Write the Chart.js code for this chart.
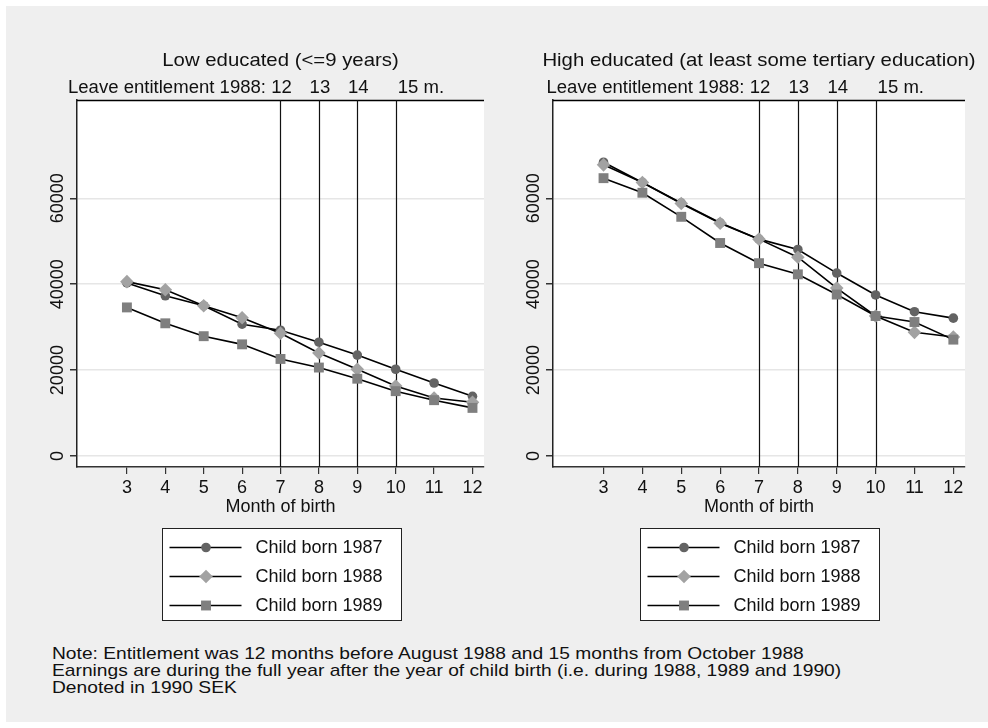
<!DOCTYPE html>
<html><head><meta charset="utf-8">
<script src="https://cdn.jsdelivr.net/npm/chart.js@4.4.1/dist/chart.umd.min.js"></script>
<style>
html,body{margin:0;padding:0;background:#fff;}
#wrap{position:absolute;left:0;top:0;width:988px;height:728px;background:#fff;overflow:hidden}
#bg{position:absolute;left:6px;top:6px;width:982px;height:716px;background:#efefef}
#c1{position:absolute;left:0;top:0}
#c2{position:absolute;left:494px;top:0}
#note{position:absolute;left:52px;top:646px;font-family:'Liberation Sans',Arial,sans-serif;font-size:17px;line-height:16.8px;color:#111;white-space:nowrap;transform:scaleX(1.13);transform-origin:0 0}
</style></head>
<body>
<div id="wrap">
<div id="bg"></div>
<canvas id="c1" width="494" height="640"></canvas>
<canvas id="c2" width="494" height="640"></canvas>
<div id="note">Note: Entitlement was 12 months before August 1988 and 15 months from October 1988<br>Earnings are during the full year after the year of child birth (i.e. during 1988, 1989 and 1990)<br>Denoted in 1990 SEK</div>
</div>
<script>
// ---- data ----
const months = [3, 4, 5, 6, 7, 8, 9, 10, 11, 12];
const entitlementMonths = [7, 8, 9, 10];
const entitlementLabels = ['12', '13', '14', '15 m.'];
const entitlementPrefix = 'Leave entitlement 1988:';
const yTicks = [0, 20000, 40000, 60000];
const seriesLabels = ['Child born 1987', 'Child born 1988', 'Child born 1989'];
const xTitle = 'Month of birth';
const titleLow = 'Low educated (<=9 years)';
const titleHigh = 'High educated (at least some tertiary education)';

const low1987 = [40300, 37300, 35000, 30700, 29300, 26500, 23500, 20200, 17000, 13900];
const low1988 = [40600, 38700, 35000, 32200, 28600, 24000, 20200, 16300, 13500, 12500];
const low1989 = [34600, 30900, 27900, 26000, 22600, 20600, 18000, 15100, 13000, 11200];

const high1987 = [68400, 63700, 58900, 54300, 50500, 48100, 42600, 37500, 33600, 32100];
const high1988 = [67800, 63700, 58800, 54200, 50500, 46300, 39100, 32600, 28800, 27700];
const high1989 = [64700, 61300, 55700, 49600, 44900, 42300, 37600, 32600, 31200, 27100];

// ---- styles ----
const FONT = "'Liberation Sans', Arial, sans-serif";
const pointStyles = ['circle', 'rectRot', 'rect'];
const pointRadii = [4.8, 6.8, 7];
const markerColors = ['#636363', '#a2a2a2', '#7f7f7f'];

Chart.defaults.font.family = FONT;
Chart.defaults.color = '#111';

function stretchText(ctx, text, x, y, align, sx) {
  ctx.save();
  ctx.translate(x, y);
  ctx.scale(sx, 1);
  ctx.textAlign = align;
  ctx.fillText(text, 0, 0);
  ctx.restore();
}

const deco = {
  id: 'deco',
  beforeDraw(chart) {
    const {ctx, chartArea: a} = chart;
    ctx.save();
    ctx.fillStyle = '#ffffff';
    ctx.fillRect(a.left, a.top, a.right - a.left, a.bottom - a.top);
    ctx.restore();
  },
  beforeDatasetsDraw(chart) {
    const {ctx, chartArea: a, scales: {x}} = chart;
    ctx.save();
    ctx.strokeStyle = '#000';
    ctx.lineWidth = 1.4;
    ctx.beginPath(); ctx.moveTo(a.left, a.top + 0.5); ctx.lineTo(a.right, a.top + 0.5); ctx.stroke();
    ctx.lineWidth = 1.2;
    ctx.strokeStyle = '#111';
    entitlementMonths.forEach(m => {
      const px = Math.round(x.getPixelForValue(m)) + 0.5;
      ctx.beginPath(); ctx.moveTo(px, a.top); ctx.lineTo(px, a.bottom); ctx.stroke();
    });
    ctx.restore();
  },
  afterDraw(chart, args, opts) {
    const {ctx, chartArea: a, scales: {x, y}} = chart;
    const cx = (a.left + a.right) / 2;
    ctx.save();
    ctx.fillStyle = '#111';
    ctx.textBaseline = 'alphabetic';
    // title
    ctx.font = '18.5px ' + FONT;
    stretchText(ctx, opts.title, cx, 66, 'center', 1.1);
    // subtitle
    ctx.font = '17.5px ' + FONT;
    const sx = 1.06;
    stretchText(ctx, entitlementPrefix, x.getPixelForValue(entitlementMonths[0]) - 14.5, 93, 'right', sx);
    entitlementMonths.forEach((m, i) => {
      const px = x.getPixelForValue(m);
      if (i < entitlementMonths.length - 1) {
        stretchText(ctx, entitlementLabels[i], px + 1, 93, 'center', sx);
      } else {
        stretchText(ctx, entitlementLabels[i], px + 2, 93, 'left', sx);
      }
    });
    // y tick labels (rotated)
    ctx.font = '18px ' + FONT;
    yTicks.forEach(v => {
      const py = y.getPixelForValue(v);
      ctx.save();
      ctx.translate(a.left - 14, py);
      ctx.rotate(-Math.PI / 2);
      ctx.textAlign = 'center';
      ctx.textBaseline = 'alphabetic';
      ctx.fillText(String(v), 0, 0);
      ctx.restore();
    });
    // legend
    const bw = 239, bh = 92, bx = Math.round(cx - 119) + 0.5, by = 528.5;
    ctx.fillStyle = '#fff';
    ctx.fillRect(bx, by, bw, bh);
    ctx.strokeStyle = '#222';
    ctx.lineWidth = 1;
    ctx.strokeRect(bx, by, bw, bh);
    chart.data.datasets.forEach((ds, i) => {
      const ly = by + 19 + i * 29;
      ctx.strokeStyle = '#000';
      ctx.lineWidth = 1.6;
      ctx.beginPath(); ctx.moveTo(bx + 7, ly); ctx.lineTo(bx + 79, ly); ctx.stroke();
      ctx.fillStyle = ds.pointBackgroundColor;
      Chart.helpers.drawPoint(ctx, {pointStyle: ds.pointStyle, radius: ds.pointRadius, borderWidth: 0, rotation: 0}, bx + 43.5, ly);
      ctx.fillStyle = '#111';
      ctx.font = '18px ' + FONT;
      ctx.textAlign = 'left';
      ctx.textBaseline = 'middle';
      ctx.fillText(ds.label, bx + 93, ly + 1);
    });
    ctx.restore();
  }
};

function makeChart(id, title, s87, s88, s89, yWidth, padRight) {
  const datasets = [s87, s88, s89].map((vals, i) => ({
    label: seriesLabels[i],
    data: months.map((m, j) => ({x: m, y: vals[j]})),
    borderColor: '#000',
    borderWidth: 1.6,
    pointStyle: pointStyles[i],
    pointRadius: pointRadii[i],
    pointBackgroundColor: markerColors[i],
    pointBorderColor: markerColors[i],
    pointBorderWidth: 0,
    order: 3 - i,
    tension: 0,
    fill: false
  }));
  return new Chart(document.getElementById(id), {
    type: 'line',
    data: {datasets},
    plugins: [deco],
    options: {
      responsive: false,
      animation: false,
      devicePixelRatio: 1,
      events: [],
      layout: {padding: {left: 0, top: 100, right: padRight, bottom: 122}},
      plugins: {
        legend: {display: false},
        tooltip: {enabled: false},
        deco: {title}
      },
      scales: {
        x: {
          type: 'linear',
          min: 1.7, max: 12.3,
          afterBuildTicks: s => { s.ticks = months.map(v => ({value: v})); },
          afterFit: s => { s.height = 51; },
          grid: {drawOnChartArea: false, drawTicks: true, tickLength: 7, tickColor: '#333', lineWidth: 1.2},
          border: {display: true, color: '#333', width: 1.5},
          ticks: {font: {size: 18}, color: '#111', padding: 3, maxRotation: 0, autoSkip: false},
          title: {display: true, text: xTitle, font: {size: 18}, color: '#111', padding: {top: 0, bottom: 0}}
        },
        y: {
          type: 'linear',
          min: -2560, max: 82900,
          afterBuildTicks: s => { s.ticks = yTicks.map(v => ({value: v})); },
          afterFit: s => { s.width = yWidth; },
          grid: {color: '#e6e6e6', lineWidth: 1.5, drawTicks: true, tickLength: 7, tickColor: '#333'},
          border: {display: true, color: '#222', width: 1.5},
          ticks: {display: false}
        }
      }
    }
  });
}

makeChart('c1', titleLow, low1987, low1988, low1989, 77, 10);
makeChart('c2', titleHigh, high1987, high1988, high1989, 59, 23);
</script>
</body></html>
